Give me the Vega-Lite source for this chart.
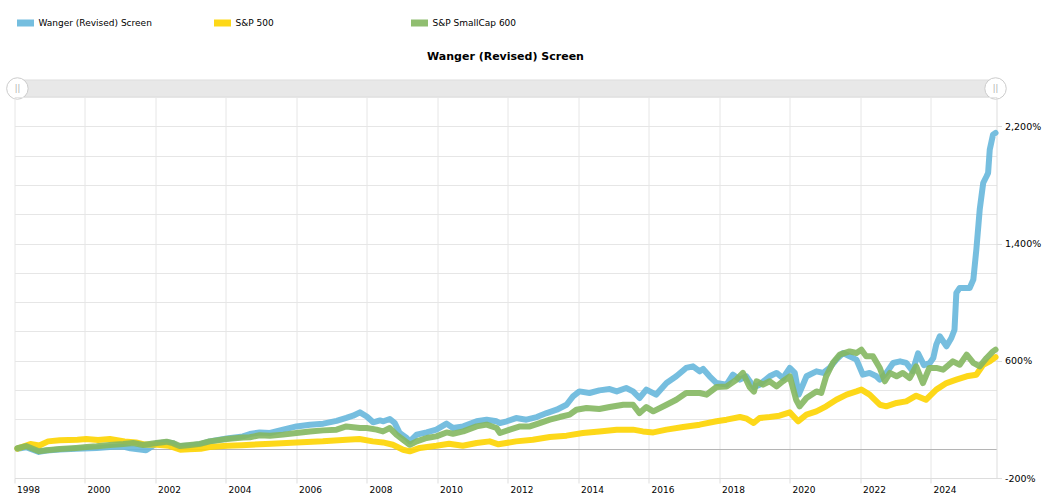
{
  "$schema": "https://vega.github.io/schema/vega-lite/v6.json",
  "padding": {"left": 4.5, "top": 11, "right": 5, "bottom": 2},
  "bounds": "flush",
  "config": {"font": "DejaVu Sans", "view": {"stroke": null}, "concat": {"spacing": 0}},
  "datasets": {
    "range": [
      {"handle": "start", "date": "1998-01-31"},
      {"handle": "end", "date": "2025-10-31"}
    ],
    "series": [
      {"series": "Wanger (Revised) Screen", "date": "1998-01-31", "value": 0},
      {"series": "Wanger (Revised) Screen", "date": "1998-05-01", "value": 10},
      {"series": "Wanger (Revised) Screen", "date": "1998-09-10", "value": -22},
      {"series": "Wanger (Revised) Screen", "date": "1998-12-01", "value": -12},
      {"series": "Wanger (Revised) Screen", "date": "1999-04-15", "value": -5},
      {"series": "Wanger (Revised) Screen", "date": "1999-10-01", "value": 0},
      {"series": "Wanger (Revised) Screen", "date": "2000-05-01", "value": 5},
      {"series": "Wanger (Revised) Screen", "date": "2000-09-15", "value": 11},
      {"series": "Wanger (Revised) Screen", "date": "2001-02-01", "value": 15},
      {"series": "Wanger (Revised) Screen", "date": "2001-04-15", "value": 3},
      {"series": "Wanger (Revised) Screen", "date": "2001-09-25", "value": -11},
      {"series": "Wanger (Revised) Screen", "date": "2002-01-10", "value": 35},
      {"series": "Wanger (Revised) Screen", "date": "2002-04-25", "value": 45},
      {"series": "Wanger (Revised) Screen", "date": "2002-06-30", "value": 38},
      {"series": "Wanger (Revised) Screen", "date": "2002-08-20", "value": 16},
      {"series": "Wanger (Revised) Screen", "date": "2002-12-25", "value": 22},
      {"series": "Wanger (Revised) Screen", "date": "2003-04-05", "value": 30},
      {"series": "Wanger (Revised) Screen", "date": "2003-07-15", "value": 50},
      {"series": "Wanger (Revised) Screen", "date": "2004-01-10", "value": 70},
      {"series": "Wanger (Revised) Screen", "date": "2004-06-25", "value": 84},
      {"series": "Wanger (Revised) Screen", "date": "2004-09-05", "value": 100},
      {"series": "Wanger (Revised) Screen", "date": "2004-12-15", "value": 111},
      {"series": "Wanger (Revised) Screen", "date": "2005-04-01", "value": 107},
      {"series": "Wanger (Revised) Screen", "date": "2005-08-15", "value": 130},
      {"series": "Wanger (Revised) Screen", "date": "2006-01-01", "value": 152},
      {"series": "Wanger (Revised) Screen", "date": "2006-05-20", "value": 164},
      {"series": "Wanger (Revised) Screen", "date": "2006-10-05", "value": 171},
      {"series": "Wanger (Revised) Screen", "date": "2007-02-20", "value": 190},
      {"series": "Wanger (Revised) Screen", "date": "2007-06-01", "value": 210},
      {"series": "Wanger (Revised) Screen", "date": "2007-08-10", "value": 225},
      {"series": "Wanger (Revised) Screen", "date": "2007-10-20", "value": 248},
      {"series": "Wanger (Revised) Screen", "date": "2007-12-30", "value": 220},
      {"series": "Wanger (Revised) Screen", "date": "2008-03-05", "value": 180},
      {"series": "Wanger (Revised) Screen", "date": "2008-05-15", "value": 193},
      {"series": "Wanger (Revised) Screen", "date": "2008-06-20", "value": 187},
      {"series": "Wanger (Revised) Screen", "date": "2008-08-25", "value": 203},
      {"series": "Wanger (Revised) Screen", "date": "2008-10-15", "value": 175},
      {"series": "Wanger (Revised) Screen", "date": "2008-12-05", "value": 107},
      {"series": "Wanger (Revised) Screen", "date": "2009-02-15", "value": 73},
      {"series": "Wanger (Revised) Screen", "date": "2009-03-20", "value": 50},
      {"series": "Wanger (Revised) Screen", "date": "2009-05-30", "value": 96},
      {"series": "Wanger (Revised) Screen", "date": "2009-09-10", "value": 111},
      {"series": "Wanger (Revised) Screen", "date": "2009-12-20", "value": 130},
      {"series": "Wanger (Revised) Screen", "date": "2010-04-05", "value": 171},
      {"series": "Wanger (Revised) Screen", "date": "2010-06-10", "value": 141},
      {"series": "Wanger (Revised) Screen", "date": "2010-09-25", "value": 152},
      {"series": "Wanger (Revised) Screen", "date": "2011-02-10", "value": 187},
      {"series": "Wanger (Revised) Screen", "date": "2011-05-25", "value": 198},
      {"series": "Wanger (Revised) Screen", "date": "2011-09-05", "value": 187},
      {"series": "Wanger (Revised) Screen", "date": "2011-10-10", "value": 175},
      {"series": "Wanger (Revised) Screen", "date": "2011-12-20", "value": 187},
      {"series": "Wanger (Revised) Screen", "date": "2012-03-25", "value": 209},
      {"series": "Wanger (Revised) Screen", "date": "2012-07-10", "value": 198},
      {"series": "Wanger (Revised) Screen", "date": "2012-10-25", "value": 216},
      {"series": "Wanger (Revised) Screen", "date": "2013-02-05", "value": 243},
      {"series": "Wanger (Revised) Screen", "date": "2013-05-20", "value": 266},
      {"series": "Wanger (Revised) Screen", "date": "2013-08-30", "value": 300},
      {"series": "Wanger (Revised) Screen", "date": "2013-11-05", "value": 357},
      {"series": "Wanger (Revised) Screen", "date": "2014-01-10", "value": 391},
      {"series": "Wanger (Revised) Screen", "date": "2014-04-25", "value": 380},
      {"series": "Wanger (Revised) Screen", "date": "2014-08-05", "value": 398},
      {"series": "Wanger (Revised) Screen", "date": "2014-11-20", "value": 407},
      {"series": "Wanger (Revised) Screen", "date": "2015-02-01", "value": 391},
      {"series": "Wanger (Revised) Screen", "date": "2015-05-10", "value": 414},
      {"series": "Wanger (Revised) Screen", "date": "2015-07-20", "value": 391},
      {"series": "Wanger (Revised) Screen", "date": "2015-09-25", "value": 346},
      {"series": "Wanger (Revised) Screen", "date": "2015-12-05", "value": 403},
      {"series": "Wanger (Revised) Screen", "date": "2016-03-15", "value": 369},
      {"series": "Wanger (Revised) Screen", "date": "2016-07-01", "value": 448},
      {"series": "Wanger (Revised) Screen", "date": "2016-10-10", "value": 494},
      {"series": "Wanger (Revised) Screen", "date": "2017-01-20", "value": 551},
      {"series": "Wanger (Revised) Screen", "date": "2017-04-01", "value": 562},
      {"series": "Wanger (Revised) Screen", "date": "2017-06-10", "value": 528},
      {"series": "Wanger (Revised) Screen", "date": "2017-07-15", "value": 544},
      {"series": "Wanger (Revised) Screen", "date": "2017-09-20", "value": 494},
      {"series": "Wanger (Revised) Screen", "date": "2017-12-01", "value": 448},
      {"series": "Wanger (Revised) Screen", "date": "2018-03-15", "value": 437},
      {"series": "Wanger (Revised) Screen", "date": "2018-05-20", "value": 505},
      {"series": "Wanger (Revised) Screen", "date": "2018-07-30", "value": 471},
      {"series": "Wanger (Revised) Screen", "date": "2018-10-05", "value": 494},
      {"series": "Wanger (Revised) Screen", "date": "2018-12-24", "value": 420},
      {"series": "Wanger (Revised) Screen", "date": "2019-02-20", "value": 437},
      {"series": "Wanger (Revised) Screen", "date": "2019-06-05", "value": 494},
      {"series": "Wanger (Revised) Screen", "date": "2019-08-15", "value": 517},
      {"series": "Wanger (Revised) Screen", "date": "2019-10-20", "value": 482},
      {"series": "Wanger (Revised) Screen", "date": "2019-12-30", "value": 551},
      {"series": "Wanger (Revised) Screen", "date": "2020-02-20", "value": 517},
      {"series": "Wanger (Revised) Screen", "date": "2020-04-01", "value": 369},
      {"series": "Wanger (Revised) Screen", "date": "2020-06-20", "value": 494},
      {"series": "Wanger (Revised) Screen", "date": "2020-10-01", "value": 528},
      {"series": "Wanger (Revised) Screen", "date": "2020-12-10", "value": 517},
      {"series": "Wanger (Revised) Screen", "date": "2021-02-15", "value": 551},
      {"series": "Wanger (Revised) Screen", "date": "2021-04-25", "value": 608},
      {"series": "Wanger (Revised) Screen", "date": "2021-07-05", "value": 653},
      {"series": "Wanger (Revised) Screen", "date": "2021-09-10", "value": 630},
      {"series": "Wanger (Revised) Screen", "date": "2021-11-20", "value": 608},
      {"series": "Wanger (Revised) Screen", "date": "2022-01-25", "value": 505},
      {"series": "Wanger (Revised) Screen", "date": "2022-04-05", "value": 517},
      {"series": "Wanger (Revised) Screen", "date": "2022-06-15", "value": 494},
      {"series": "Wanger (Revised) Screen", "date": "2022-07-20", "value": 471},
      {"series": "Wanger (Revised) Screen", "date": "2022-09-25", "value": 517},
      {"series": "Wanger (Revised) Screen", "date": "2022-12-05", "value": 585},
      {"series": "Wanger (Revised) Screen", "date": "2023-02-15", "value": 596},
      {"series": "Wanger (Revised) Screen", "date": "2023-04-20", "value": 585},
      {"series": "Wanger (Revised) Screen", "date": "2023-06-25", "value": 530},
      {"series": "Wanger (Revised) Screen", "date": "2023-08-20", "value": 650},
      {"series": "Wanger (Revised) Screen", "date": "2023-10-20", "value": 570},
      {"series": "Wanger (Revised) Screen", "date": "2023-12-20", "value": 585},
      {"series": "Wanger (Revised) Screen", "date": "2024-01-25", "value": 619},
      {"series": "Wanger (Revised) Screen", "date": "2024-02-25", "value": 710},
      {"series": "Wanger (Revised) Screen", "date": "2024-04-01", "value": 767},
      {"series": "Wanger (Revised) Screen", "date": "2024-06-10", "value": 699},
      {"series": "Wanger (Revised) Screen", "date": "2024-07-30", "value": 755},
      {"series": "Wanger (Revised) Screen", "date": "2024-09-01", "value": 812},
      {"series": "Wanger (Revised) Screen", "date": "2024-09-20", "value": 1063},
      {"series": "Wanger (Revised) Screen", "date": "2024-10-25", "value": 1097},
      {"series": "Wanger (Revised) Screen", "date": "2025-01-05", "value": 1097},
      {"series": "Wanger (Revised) Screen", "date": "2025-02-05", "value": 1097},
      {"series": "Wanger (Revised) Screen", "date": "2025-03-15", "value": 1154},
      {"series": "Wanger (Revised) Screen", "date": "2025-04-15", "value": 1358},
      {"series": "Wanger (Revised) Screen", "date": "2025-05-20", "value": 1631},
      {"series": "Wanger (Revised) Screen", "date": "2025-06-25", "value": 1813},
      {"series": "Wanger (Revised) Screen", "date": "2025-07-30", "value": 1859},
      {"series": "Wanger (Revised) Screen", "date": "2025-08-15", "value": 1882},
      {"series": "Wanger (Revised) Screen", "date": "2025-09-01", "value": 2041},
      {"series": "Wanger (Revised) Screen", "date": "2025-10-05", "value": 2143},
      {"series": "Wanger (Revised) Screen", "date": "2025-10-31", "value": 2155},

      {"series": "S&P 500", "date": "1998-01-31", "value": 0},
      {"series": "S&P 500", "date": "1998-06-15", "value": 32},
      {"series": "S&P 500", "date": "1998-09-15", "value": 22},
      {"series": "S&P 500", "date": "1998-12-15", "value": 50},
      {"series": "S&P 500", "date": "1999-04-15", "value": 57},
      {"series": "S&P 500", "date": "1999-10-15", "value": 61},
      {"series": "S&P 500", "date": "2000-01-15", "value": 66},
      {"series": "S&P 500", "date": "2000-05-15", "value": 60},
      {"series": "S&P 500", "date": "2000-09-15", "value": 66},
      {"series": "S&P 500", "date": "2001-02-15", "value": 50},
      {"series": "S&P 500", "date": "2001-06-15", "value": 43},
      {"series": "S&P 500", "date": "2001-09-15", "value": 28},
      {"series": "S&P 500", "date": "2002-01-15", "value": 27},
      {"series": "S&P 500", "date": "2002-05-15", "value": 20},
      {"series": "S&P 500", "date": "2002-09-15", "value": -7},
      {"series": "S&P 500", "date": "2002-12-15", "value": -3},
      {"series": "S&P 500", "date": "2003-04-15", "value": 0},
      {"series": "S&P 500", "date": "2003-07-15", "value": 11},
      {"series": "S&P 500", "date": "2004-01-15", "value": 20},
      {"series": "S&P 500", "date": "2004-06-15", "value": 24},
      {"series": "S&P 500", "date": "2004-09-15", "value": 27},
      {"series": "S&P 500", "date": "2004-12-15", "value": 30},
      {"series": "S&P 500", "date": "2005-04-15", "value": 34},
      {"series": "S&P 500", "date": "2006-01-01", "value": 43},
      {"series": "S&P 500", "date": "2006-10-01", "value": 50},
      {"series": "S&P 500", "date": "2007-06-01", "value": 61},
      {"series": "S&P 500", "date": "2007-10-15", "value": 66},
      {"series": "S&P 500", "date": "2008-03-01", "value": 50},
      {"series": "S&P 500", "date": "2008-06-15", "value": 43},
      {"series": "S&P 500", "date": "2008-09-25", "value": 27},
      {"series": "S&P 500", "date": "2009-01-10", "value": -7},
      {"series": "S&P 500", "date": "2009-03-20", "value": -18},
      {"series": "S&P 500", "date": "2009-07-01", "value": 5},
      {"series": "S&P 500", "date": "2009-12-20", "value": 20},
      {"series": "S&P 500", "date": "2010-05-01", "value": 34},
      {"series": "S&P 500", "date": "2010-09-20", "value": 20},
      {"series": "S&P 500", "date": "2011-02-10", "value": 39},
      {"series": "S&P 500", "date": "2011-06-25", "value": 50},
      {"series": "S&P 500", "date": "2011-09-25", "value": 30},
      {"series": "S&P 500", "date": "2012-03-25", "value": 50},
      {"series": "S&P 500", "date": "2012-09-15", "value": 61},
      {"series": "S&P 500", "date": "2013-03-10", "value": 80},
      {"series": "S&P 500", "date": "2013-08-30", "value": 89},
      {"series": "S&P 500", "date": "2014-02-15", "value": 107},
      {"series": "S&P 500", "date": "2014-08-05", "value": 118},
      {"series": "S&P 500", "date": "2015-02-01", "value": 130},
      {"series": "S&P 500", "date": "2015-07-20", "value": 130},
      {"series": "S&P 500", "date": "2015-10-30", "value": 118},
      {"series": "S&P 500", "date": "2016-02-15", "value": 111},
      {"series": "S&P 500", "date": "2016-07-01", "value": 130},
      {"series": "S&P 500", "date": "2016-12-20", "value": 148},
      {"series": "S&P 500", "date": "2017-06-10", "value": 164},
      {"series": "S&P 500", "date": "2017-12-01", "value": 187},
      {"series": "S&P 500", "date": "2018-03-15", "value": 198},
      {"series": "S&P 500", "date": "2018-08-01", "value": 216},
      {"series": "S&P 500", "date": "2018-10-10", "value": 205},
      {"series": "S&P 500", "date": "2018-12-20", "value": 175},
      {"series": "S&P 500", "date": "2019-02-20", "value": 209},
      {"series": "S&P 500", "date": "2019-06-05", "value": 216},
      {"series": "S&P 500", "date": "2019-09-15", "value": 225},
      {"series": "S&P 500", "date": "2019-12-30", "value": 248},
      {"series": "S&P 500", "date": "2020-03-25", "value": 187},
      {"series": "S&P 500", "date": "2020-06-20", "value": 232},
      {"series": "S&P 500", "date": "2020-10-01", "value": 255},
      {"series": "S&P 500", "date": "2021-01-10", "value": 289},
      {"series": "S&P 500", "date": "2021-04-25", "value": 334},
      {"series": "S&P 500", "date": "2021-08-10", "value": 369},
      {"series": "S&P 500", "date": "2021-11-20", "value": 391},
      {"series": "S&P 500", "date": "2022-01-10", "value": 403},
      {"series": "S&P 500", "date": "2022-04-05", "value": 369},
      {"series": "S&P 500", "date": "2022-07-20", "value": 300},
      {"series": "S&P 500", "date": "2022-09-25", "value": 289},
      {"series": "S&P 500", "date": "2023-01-10", "value": 312},
      {"series": "S&P 500", "date": "2023-04-20", "value": 323},
      {"series": "S&P 500", "date": "2023-08-01", "value": 362},
      {"series": "S&P 500", "date": "2023-11-10", "value": 334},
      {"series": "S&P 500", "date": "2024-02-25", "value": 403},
      {"series": "S&P 500", "date": "2024-06-10", "value": 448},
      {"series": "S&P 500", "date": "2024-09-20", "value": 471},
      {"series": "S&P 500", "date": "2025-01-05", "value": 494},
      {"series": "S&P 500", "date": "2025-04-15", "value": 505},
      {"series": "S&P 500", "date": "2025-06-25", "value": 573},
      {"series": "S&P 500", "date": "2025-09-01", "value": 596},
      {"series": "S&P 500", "date": "2025-10-31", "value": 625},

      {"series": "S&P SmallCap 600", "date": "1998-01-31", "value": 3},
      {"series": "S&P SmallCap 600", "date": "1998-05-01", "value": 18},
      {"series": "S&P SmallCap 600", "date": "1998-09-10", "value": -18},
      {"series": "S&P SmallCap 600", "date": "1998-12-01", "value": -11},
      {"series": "S&P SmallCap 600", "date": "1999-04-15", "value": -2},
      {"series": "S&P SmallCap 600", "date": "1999-10-01", "value": 5},
      {"series": "S&P SmallCap 600", "date": "2000-01-20", "value": 11},
      {"series": "S&P SmallCap 600", "date": "2000-05-01", "value": 16},
      {"series": "S&P SmallCap 600", "date": "2000-09-15", "value": 25},
      {"series": "S&P SmallCap 600", "date": "2001-02-01", "value": 32},
      {"series": "S&P SmallCap 600", "date": "2001-05-15", "value": 39},
      {"series": "S&P SmallCap 600", "date": "2001-08-25", "value": 25},
      {"series": "S&P SmallCap 600", "date": "2002-01-10", "value": 39},
      {"series": "S&P SmallCap 600", "date": "2002-04-25", "value": 48},
      {"series": "S&P SmallCap 600", "date": "2002-06-30", "value": 38},
      {"series": "S&P SmallCap 600", "date": "2002-09-10", "value": 18},
      {"series": "S&P SmallCap 600", "date": "2002-12-25", "value": 25},
      {"series": "S&P SmallCap 600", "date": "2003-04-05", "value": 33},
      {"series": "S&P SmallCap 600", "date": "2003-07-15", "value": 50},
      {"series": "S&P SmallCap 600", "date": "2004-01-10", "value": 66},
      {"series": "S&P SmallCap 600", "date": "2004-06-25", "value": 77},
      {"series": "S&P SmallCap 600", "date": "2004-09-05", "value": 78},
      {"series": "S&P SmallCap 600", "date": "2004-12-15", "value": 92},
      {"series": "S&P SmallCap 600", "date": "2005-04-01", "value": 88},
      {"series": "S&P SmallCap 600", "date": "2005-08-15", "value": 96},
      {"series": "S&P SmallCap 600", "date": "2006-01-01", "value": 107},
      {"series": "S&P SmallCap 600", "date": "2006-05-20", "value": 118},
      {"series": "S&P SmallCap 600", "date": "2006-10-05", "value": 125},
      {"series": "S&P SmallCap 600", "date": "2007-02-20", "value": 130},
      {"series": "S&P SmallCap 600", "date": "2007-06-01", "value": 152},
      {"series": "S&P SmallCap 600", "date": "2007-10-20", "value": 141},
      {"series": "S&P SmallCap 600", "date": "2007-12-30", "value": 141},
      {"series": "S&P SmallCap 600", "date": "2008-04-10", "value": 130},
      {"series": "S&P SmallCap 600", "date": "2008-06-15", "value": 118},
      {"series": "S&P SmallCap 600", "date": "2008-08-25", "value": 141},
      {"series": "S&P SmallCap 600", "date": "2008-11-01", "value": 96},
      {"series": "S&P SmallCap 600", "date": "2009-01-10", "value": 61},
      {"series": "S&P SmallCap 600", "date": "2009-03-20", "value": 27},
      {"series": "S&P SmallCap 600", "date": "2009-05-30", "value": 50},
      {"series": "S&P SmallCap 600", "date": "2009-09-10", "value": 73},
      {"series": "S&P SmallCap 600", "date": "2009-12-20", "value": 84},
      {"series": "S&P SmallCap 600", "date": "2010-04-05", "value": 111},
      {"series": "S&P SmallCap 600", "date": "2010-06-10", "value": 102},
      {"series": "S&P SmallCap 600", "date": "2010-09-25", "value": 118},
      {"series": "S&P SmallCap 600", "date": "2011-02-10", "value": 152},
      {"series": "S&P SmallCap 600", "date": "2011-05-25", "value": 164},
      {"series": "S&P SmallCap 600", "date": "2011-09-05", "value": 141},
      {"series": "S&P SmallCap 600", "date": "2011-10-10", "value": 107},
      {"series": "S&P SmallCap 600", "date": "2012-01-20", "value": 130},
      {"series": "S&P SmallCap 600", "date": "2012-05-05", "value": 152},
      {"series": "S&P SmallCap 600", "date": "2012-08-15", "value": 152},
      {"series": "S&P SmallCap 600", "date": "2012-11-25", "value": 175},
      {"series": "S&P SmallCap 600", "date": "2013-03-10", "value": 198},
      {"series": "S&P SmallCap 600", "date": "2013-06-20", "value": 216},
      {"series": "S&P SmallCap 600", "date": "2013-10-01", "value": 232},
      {"series": "S&P SmallCap 600", "date": "2013-12-10", "value": 266},
      {"series": "S&P SmallCap 600", "date": "2014-03-25", "value": 278},
      {"series": "S&P SmallCap 600", "date": "2014-08-05", "value": 271},
      {"series": "S&P SmallCap 600", "date": "2014-11-20", "value": 284},
      {"series": "S&P SmallCap 600", "date": "2015-04-10", "value": 300},
      {"series": "S&P SmallCap 600", "date": "2015-07-20", "value": 300},
      {"series": "S&P SmallCap 600", "date": "2015-09-25", "value": 243},
      {"series": "S&P SmallCap 600", "date": "2015-12-05", "value": 284},
      {"series": "S&P SmallCap 600", "date": "2016-02-15", "value": 255},
      {"series": "S&P SmallCap 600", "date": "2016-07-01", "value": 300},
      {"series": "S&P SmallCap 600", "date": "2016-10-10", "value": 334},
      {"series": "S&P SmallCap 600", "date": "2017-01-20", "value": 380},
      {"series": "S&P SmallCap 600", "date": "2017-06-10", "value": 380},
      {"series": "S&P SmallCap 600", "date": "2017-08-20", "value": 369},
      {"series": "S&P SmallCap 600", "date": "2017-12-01", "value": 421},
      {"series": "S&P SmallCap 600", "date": "2018-03-15", "value": 425},
      {"series": "S&P SmallCap 600", "date": "2018-06-25", "value": 471},
      {"series": "S&P SmallCap 600", "date": "2018-09-01", "value": 517},
      {"series": "S&P SmallCap 600", "date": "2018-11-10", "value": 420},
      {"series": "S&P SmallCap 600", "date": "2018-12-24", "value": 390},
      {"series": "S&P SmallCap 600", "date": "2019-01-20", "value": 460},
      {"series": "S&P SmallCap 600", "date": "2019-03-28", "value": 437},
      {"series": "S&P SmallCap 600", "date": "2019-06-05", "value": 460},
      {"series": "S&P SmallCap 600", "date": "2019-08-15", "value": 425},
      {"series": "S&P SmallCap 600", "date": "2019-10-20", "value": 460},
      {"series": "S&P SmallCap 600", "date": "2019-12-30", "value": 494},
      {"series": "S&P SmallCap 600", "date": "2020-03-05", "value": 334},
      {"series": "S&P SmallCap 600", "date": "2020-04-10", "value": 289},
      {"series": "S&P SmallCap 600", "date": "2020-06-20", "value": 346},
      {"series": "S&P SmallCap 600", "date": "2020-10-01", "value": 391},
      {"series": "S&P SmallCap 600", "date": "2020-11-20", "value": 380},
      {"series": "S&P SmallCap 600", "date": "2021-01-10", "value": 494},
      {"series": "S&P SmallCap 600", "date": "2021-03-20", "value": 585},
      {"series": "S&P SmallCap 600", "date": "2021-05-30", "value": 642},
      {"series": "S&P SmallCap 600", "date": "2021-09-10", "value": 664},
      {"series": "S&P SmallCap 600", "date": "2021-11-20", "value": 653},
      {"series": "S&P SmallCap 600", "date": "2022-01-10", "value": 676},
      {"series": "S&P SmallCap 600", "date": "2022-03-01", "value": 630},
      {"series": "S&P SmallCap 600", "date": "2022-05-10", "value": 630},
      {"series": "S&P SmallCap 600", "date": "2022-07-20", "value": 551},
      {"series": "S&P SmallCap 600", "date": "2022-09-10", "value": 460},
      {"series": "S&P SmallCap 600", "date": "2022-11-01", "value": 517},
      {"series": "S&P SmallCap 600", "date": "2023-01-10", "value": 494},
      {"series": "S&P SmallCap 600", "date": "2023-03-15", "value": 517},
      {"series": "S&P SmallCap 600", "date": "2023-05-25", "value": 482},
      {"series": "S&P SmallCap 600", "date": "2023-08-01", "value": 562},
      {"series": "S&P SmallCap 600", "date": "2023-10-10", "value": 448},
      {"series": "S&P SmallCap 600", "date": "2023-12-15", "value": 551},
      {"series": "S&P SmallCap 600", "date": "2024-02-25", "value": 551},
      {"series": "S&P SmallCap 600", "date": "2024-05-05", "value": 539},
      {"series": "S&P SmallCap 600", "date": "2024-08-15", "value": 596},
      {"series": "S&P SmallCap 600", "date": "2024-10-25", "value": 573},
      {"series": "S&P SmallCap 600", "date": "2025-01-05", "value": 642},
      {"series": "S&P SmallCap 600", "date": "2025-03-15", "value": 585},
      {"series": "S&P SmallCap 600", "date": "2025-05-20", "value": 562},
      {"series": "S&P SmallCap 600", "date": "2025-07-30", "value": 619},
      {"series": "S&P SmallCap 600", "date": "2025-10-05", "value": 664},
      {"series": "S&P SmallCap 600", "date": "2025-10-31", "value": 676}
    ]
  },
  "vconcat": [
    {
      "title": {"text": "Wanger (Revised) Screen", "fontSize": 11, "fontWeight": "bold", "color": "#000000", "anchor": "middle", "frame": "group", "offset": 14},
      "width": 982,
      "height": 17,
      "data": {"name": "range"},
      "layer": [
        {
          "mark": {"type": "rect", "color": "#e8e8e8", "stroke": "#dddddd", "strokeWidth": 1},
          "encoding": {
            "x": {"aggregate": "min", "field": "date", "type": "temporal", "scale": {"domain": [{"year": 1998, "month": 1, "date": 1}, {"year": 2025, "month": 11, "date": 10}]}, "axis": null},
            "x2": {"aggregate": "max", "field": "date"}
          }
        },
        {
          "mark": {"type": "circle", "size": 460, "fill": "#ffffff", "stroke": "#cccccc", "strokeWidth": 1, "opacity": 1},
          "encoding": {
            "x": {"field": "date", "type": "temporal", "axis": null}
          }
        },
        {
          "mark": {"type": "text", "text": "||", "fontSize": 8, "color": "#aaaaaa", "baseline": "middle", "align": "center"},
          "encoding": {
            "x": {"field": "date", "type": "temporal", "axis": null}
          }
        }
      ]
    },
    {
      "width": 982,
      "height": 381,
      "data": {"name": "series"},
      "encoding": {
        "x": {
          "field": "date", "type": "temporal",
          "scale": {"domain": [{"year": 1998, "month": 1, "date": 1}, {"year": 2025, "month": 11, "date": 10}]},
          "axis": {
            "values": [{"year": 1998}, {"year": 2000}, {"year": 2002}, {"year": 2004}, {"year": 2006}, {"year": 2008}, {"year": 2010}, {"year": 2012}, {"year": 2014}, {"year": 2016}, {"year": 2018}, {"year": 2020}, {"year": 2022}, {"year": 2024}],
            "format": "%Y", "title": null, "grid": true, "gridColor": "#e6e6e6",
            "tickColor": "#dddddd", "tickSize": 5, "domain": true, "domainColor": "#dddddd",
            "labelAlign": "left", "labelOffset": 2, "labelPadding": 2, "labelFontSize": 9, "labelColor": "#000000",
            "labelFlush": false, "labelOverlap": false
          }
        },
        "y": {
          "field": "value", "type": "quantitative",
          "scale": {"domain": [-200, 2400], "nice": false, "zero": false},
          "axis": {
            "orient": "right",
            "values": [-200, 0, 200, 400, 600, 800, 1000, 1200, 1400, 1600, 1800, 2000, 2200, 2400],
            "title": null, "grid": true,
            "gridColor": {"condition": {"test": "datum.value === 0", "value": "#b5b5b5"}, "value": "#e6e6e6"},
            "tickOpacity": {"condition": {"test": "(datum.value + 200) % 800 === 0", "value": 1}, "value": 0},
            "tickColor": "#dddddd", "tickSize": 5, "domain": true, "domainColor": "#dddddd",
            "labelExpr": "(datum.value + 200) % 800 === 0 ? (datum.value < 0 ? '-' : '') + format(abs(datum.value), ',') + '%' : ''",
            "labelFontSize": 9.5, "labelColor": "#000000", "labelPadding": 3, "labelFlush": false, "labelOverlap": false
          }
        },
        "color": {
          "field": "series", "type": "nominal",
          "scale": {"domain": ["Wanger (Revised) Screen", "S&P 500", "S&P SmallCap 600"], "range": ["#67b7dc", "#fdd400", "#84b761"]},
          "legend": {
            "title": null, "orient": "none", "legendX": -1, "legendY": -69, "direction": "horizontal", "columns": 3,
            "symbolType": "stroke", "symbolSize": 289, "symbolStrokeWidth": 7, "symbolOpacity": 0.9,
            "labelFontSize": 9, "labelColor": "#000000", "labelOffset": 1, "columnPadding": 47, "gridAlign": "all", "padding": 0, "labelLimit": 300
          }
        }
      },
      "layer": [
        {
          "transform": [{"filter": "datum.series === 'Wanger (Revised) Screen'"}],
          "mark": {"type": "line", "strokeWidth": 6, "strokeJoin": "round", "strokeCap": "round", "opacity": 0.9}
        },
        {
          "transform": [{"filter": "datum.series === 'S&P 500'"}],
          "mark": {"type": "line", "strokeWidth": 6, "strokeJoin": "round", "strokeCap": "round", "opacity": 0.9}
        },
        {
          "transform": [{"filter": "datum.series === 'S&P SmallCap 600'"}],
          "mark": {"type": "line", "strokeWidth": 6, "strokeJoin": "round", "strokeCap": "round", "opacity": 0.9}
        }
      ]
    }
  ]
}
